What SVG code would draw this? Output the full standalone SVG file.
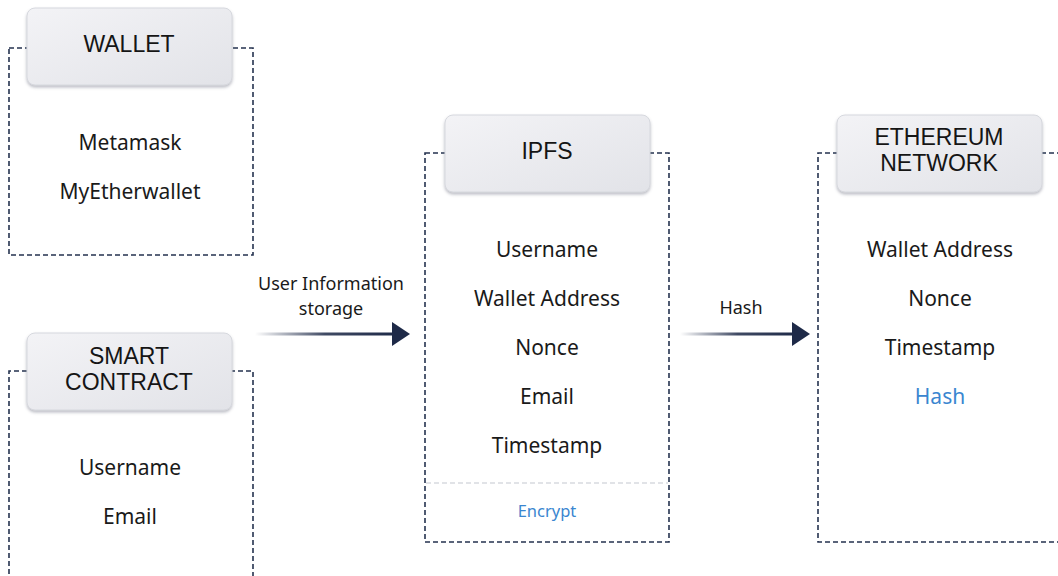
<svg xmlns="http://www.w3.org/2000/svg" width="1058" height="576" viewBox="0 0 1058 576">
<style>
.frame{fill:none;stroke:#25324f;stroke-width:1.6;stroke-dasharray:5 3}
.hdr{fill:url(#hg);stroke:#d6d8de;stroke-width:1;filter:url(#sh)}
.ht{font-family:"Liberation Sans",Arial,sans-serif;font-size:23px;fill:#151515;text-anchor:middle}
.it{font-family:"Noto Sans","Open Sans",sans-serif;font-size:21px;fill:#1a1a1a;text-anchor:middle;dominant-baseline:central}
.bl{fill:#3a86d0}
.lb{font-family:"Noto Sans","Open Sans",sans-serif;font-size:18px;fill:#1a1a1a;text-anchor:middle}
.sep{stroke:#c4c8d0;stroke-width:1.2;stroke-dasharray:5 3}
</style>
<defs>
<linearGradient id="hg" x1="0" y1="0" x2="1" y2="1">
<stop offset="0" stop-color="#f3f3f6"/>
<stop offset="1" stop-color="#e2e3e8"/>
</linearGradient>
<linearGradient id="ag" x1="0" y1="0" x2="1" y2="0">
<stop offset="0" stop-color="#1e2a48" stop-opacity="0"/>
<stop offset="0.5" stop-color="#1e2a48" stop-opacity="0.85"/>
<stop offset="1" stop-color="#1e2a48"/>
</linearGradient>
<filter id="sh" x="-10%" y="-10%" width="120%" height="130%">
<feDropShadow dx="0" dy="2" stdDeviation="1.5" flood-color="#6b7080" flood-opacity="0.45"/>
</filter>
</defs>
<rect width="1058" height="576" fill="#ffffff"/>

<g id="wallet">
<rect class="frame" x="9" y="48" width="244" height="207"/>
<rect class="hdr" x="27" y="8" width="205" height="77" rx="8"/>
<text class="ht" x="129" y="52">WALLET</text>
<text class="it" x="130" y="142">Metamask</text>
<text class="it" x="130" y="191">MyEtherwallet</text>
</g>

<g id="smart-contract">
<path class="frame" d="M9 590 V371 H253 V590"/>
<rect class="hdr" x="27" y="333" width="205" height="77" rx="8"/>
<text class="ht" x="129" y="364"><tspan x="129">SMART</tspan><tspan x="129" dy="26">CONTRACT</tspan></text>
<text class="it" x="130" y="467">Username</text>
<text class="it" x="130" y="516">Email</text>
</g>

<g id="ipfs">
<rect class="frame" x="425" y="153" width="244" height="389"/>
<line class="sep" x1="426" y1="483" x2="668" y2="483"/>
<rect class="hdr" x="445" y="115" width="205" height="77" rx="8"/>
<text class="ht" x="547" y="159">IPFS</text>
<text class="it" x="547" y="249">Username</text>
<text class="it" x="547" y="298">Wallet Address</text>
<text class="it" x="547" y="347">Nonce</text>
<text class="it" x="547" y="396">Email</text>
<text class="it" x="547" y="445">Timestamp</text>
<text class="it bl" x="547" y="510" style="font-size:16.5px">Encrypt</text>
</g>

<g id="ethereum">
<path class="frame" d="M1070 153 H818 V542 H1070"/>
<rect class="hdr" x="837" y="115" width="205" height="77" rx="8"/>
<text class="ht" x="939" y="145"><tspan x="939">ETHEREUM</tspan><tspan x="939" dy="26">NETWORK</tspan></text>
<text class="it" x="940" y="249">Wallet Address</text>
<text class="it" x="940" y="298">Nonce</text>
<text class="it" x="940" y="347">Timestamp</text>
<text class="it bl" x="940" y="396">Hash</text>
</g>

<g id="connectors">
<rect x="255" y="332.5" width="140" height="3" fill="url(#ag)"/>
<polygon points="392,322 410,334 392,346" fill="#1e2a48"/>
<text class="lb" x="331" y="290"><tspan x="331">User Information</tspan><tspan x="331" dy="25">storage</tspan></text>
<rect x="680" y="332.5" width="115" height="3" fill="url(#ag)"/>
<polygon points="792,322 810,334 792,346" fill="#1e2a48"/>
<text class="lb" x="741" y="314">Hash</text>
</g>
</svg>
